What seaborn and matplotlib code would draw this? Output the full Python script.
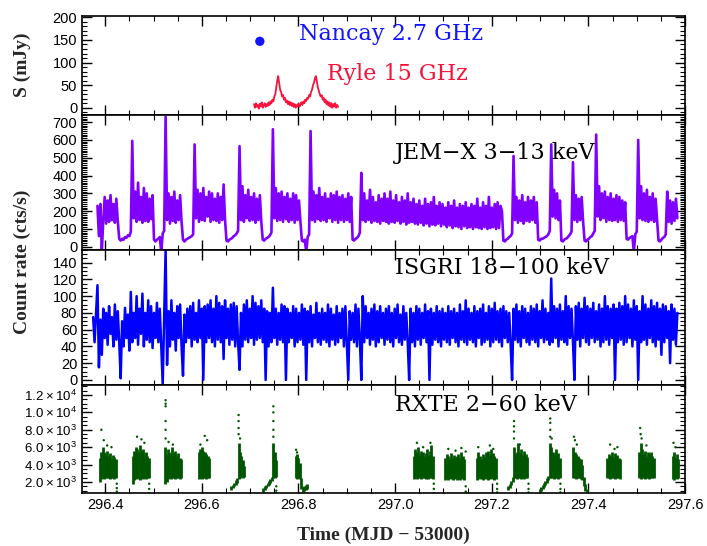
import numpy as np
import pandas as pd
import matplotlib
matplotlib.use('Agg')
import matplotlib.pyplot as plt
import seaborn as sns
from matplotlib.ticker import MultipleLocator, AutoMinorLocator, FixedLocator

sns.set_theme(style='ticks')
plt.rcParams['font.family'] = ['Liberation Sans', 'DejaVu Sans']
plt.rcParams['mathtext.fontset'] = 'custom'
plt.rcParams['mathtext.rm'] = 'Liberation Sans'
plt.rcParams['axes.unicode_minus'] = False

# ---- radio (top panel) ----
nancay_t = [296.720]
nancay_s = [147]
ryle_t0, ryle_dt = 296.708, 0.002
ryle_s = [8, 0, 10, 2, 6, -2, 9, 3, 12, 0, 5, 10, 2, 8, 4, 12, 6, 14, 10,
          18, 14, 25, 30, 45, 60, 70,
          55, 40, 35, 25, 28, 18, 22, 12, 16, 8, 14, 6, 12, 4, 10,
          2, 8, 0, 6, 3, 10, 2, 8, 12, 6, 14, 10, 18, 15, 22,
          20, 28, 25, 35, 40, 50, 55, 65, 70,
          58, 45, 38, 30, 25, 28, 18, 22, 12, 18, 8, 14, 5, 12, 2, 10, 0, 8, 3, 10, 0, 6, 2]

# ---- JEM-X 3-13 keV ----
jemx_t0, jemx_dt = 296.384, 0.003
jemx_rate = [
    230, 60, 240, -25,
    150, 280, 130, 260, 140, 290, 150, 240, 135, 270, 145,
    45, 35, 45, 40, 55, 50, 65, 60, 85, 595,
    160, 310, 140, 360, 150, 280, 135, 330, 145, 300, 140, 270, 155, 290,
    40, 30, 40, 45, 55, -30, 75, 90, 730,
    150, 300, 130, 280, 145, 310, 135, 260, 150, 290, 140,
    40, 30, 40, 45, 50, 55, 60, 70, 575,
    160, 320, 140, 300, 150, 330, 145, 280, 170, 310, 140, 300, 150, 270, 145, 300, 135, 280, 150, 350, 150,
    35, 30, 40, 45, 50, 60, 65, 75, 90, 565,
    150, 340, 140, 290, 160, 320, 145, 280, 150, 300, 135, 270, 150, 290, 140,
    40, 35, 45, 50, 55, 65, 80, 660,
    160, 330, 145, 300, 150, 310, 140, 280, 155, 300, 140, 270, 150, 300, 135, 290, 150, 260, 140,
    35, 30, 40, -30, 55, 70, 650,
    150, 310, 140, 290, 155, 330, 145, 280, 150, 300, 140, 270, 160, 300, 140, 290, 150, 310, 135, 280,
    150, 290, 140, 270, 150, 300, 140, 280,
    40, 35, 45, 50, 60, 80, 415,
    150, 300, 140, 260, 150, 320, 135, 280, 145, 250, 140, 290, 130, 270, 145, 300, 140,
    270, 130, 310, 140, 260, 135, 290, 145, 250, 130, 280, 140, 260, 125, 300, 135, 250, 140, 270, 130,
    240, 125, 260, 135, 230, 120, 270, 130, 240, 115, 250, 125, 280, 120, 230, 130, 250, 115, 240, 125,
    220, 110, 250, 120, 230, 105, 260, 115, 220, 110, 240, 100, 230, 115, 250, 105, 220, 110, 240, 100,
    230, 110, 270, 105, 220, 100, 250, 110, 230, 100, 280, 105, 220, 110, 240, 100, 250, 105, 230, 200,
    35, 30, 40, 45, 55, 60, 75, 510,
    150, 280, 135, 260, 145, 290, 130, 250, 145, 280, 140, 260, 150, 280, 135, 250,
    40, 35, 45, 45, 50, 55, 60, 70, 90, 575,
    170, 320, 160, 300, 150, 260,
    35, 30, 40, 45, 50, 60, 70, 85, 475,
    150, 290, 140, 270, 150, 280, 140,
    35, 30, 40, 45, 55, 60, 75, 90, 630,
    170, 340, 150, 300, 160, 310, 140, 280, 150, 300, 145, 270, 150, 290, 140, 280, 150, 260, 145, 250,
    45, 40, 50, 55, 60, -30, 70, 85, 600,
    160, 340, 150, 300, 145, 320, 140, 280, 150, 300, 140, 270, 150,
    35, 30, 40, 50, 55, 70, 310,
    140, 260, 130, 250, 145, 270, 160,
]

# ---- ISGRI 18-100 keV ----
isgri_t0, isgri_dt = 296.375, 0.003
isgri_rate = [
    75, 45, 78, 113, 15, 72, 30, 85, 50, 80, 42, 88, 55, 75, 40, 90, 48, 82, 45, 2,
    70, 40, 86, 50, 78, 35, 105, 45, 80, 50, 100, 42, 85, 55, 103, 40, 80, 48, 95, 45,
    88, 38, 80, 50, 92, 45, 85, 40, -5, 78, 155, 18, 82, 40, 95, 48, 80, 35, 88, 50,
    90, 40, 5, 78, 45, 85, 50, 88, 40, 92, 48, 80, 45, 95, 50, 85, 0, 88, 45, 90,
    50, 95, 45, 85, 40, 100, 48, 92, 45, 88, 25, 95, 50, 85, 42, 90, 48, 92, 40, 88,
    45, 12, 80, 40, 90, 48, 95, 45, 85, 50, 100, 42, 92, 48, 88, 50, 95, 45, 85, 0,
    82, 40, 80, 45, 110, 50, 85, 42, 80, 48, 90, 45, 88, 0, 85, 45, 80, 50, 88, 40,
    85, 45, 80, 48, 90, 42, 85, 0, 82, 45, 88, 40, 78, 50, 92, 45, 80, 42, 85, 48,
    80, 45, 90, 40, 85, 48, 78, 42, 88, 45, 80, 50, 85, 40, 88, 45, 0, 82, 48, 80,
    45, 90, 40, 85, 48, 0, 100, 45, 88, 50, 80, 42, 85, 48, 90, 40, 82, 45, 88, 50,
    80, 42, 85, 48, 88, 45, 80, 40, 85, 50, 90, 45, 78, 42, 88, 48, 80, 45, 0, 85,
    45, 80, 40, 88, 48, 85, 42, 80, 50, 90, 45, 82, 0, 85, 42, 80, 48, 88, 45, 82,
    40, 85, 48, 80, 45, 88, 42, 82, 50, 85, 45, 80, 40, 90, 48, 82, 45, 95, 42, 85,
    48, 80, 45, 88, 40, 82, 50, 85, 42, 90, 45, 80, 48, 88, 40, 85, 45, 92, 48, 82,
    45, 85, 40, 88, 50, 82, 45, 80, 42, 0, 85, 48, 90, 45, 82, 40, 88, 50, 85, 45,
    80, 42, 88, 48, 85, 45, 90, 40, 82, 50, 95, 45, 85, 48, 80, 42, 121, 45, 88, 50,
    85, 40, 90, 48, 82, 45, 100, 42, 88, 50, 85, 45, 0, 88, 48, 92, 40, 85, 50, 98,
    45, 88, 42, 85, 50, 92, 45, 82, 48, 90, 40, 85, 45, 100, 48, 88, 42, 85, 50, 90,
    0, 85, 45, 92, 48, 88, 42, 100, 45, 90, 50, 85, 40, 95, 48, 88, 0, 82, 45, 100,
    48, 90, 42, 85, 50, 95, 45, 88, 40, 92, 48, 85, 30, 90, 45, 88, 50, 82, 20, 90,
    48, 85, 42, 80,
]

# ---- RXTE 2-60 keV: one block per observation, dense band low/high ----
rxte_dt = 0.003
rxte_start = [296.389, 296.457, 296.524, 296.594, 296.661, 296.727, 296.794, 297.039,
              297.104, 297.169, 297.234, 297.299, 297.369, 297.439, 297.505, 297.574]
rxte_lo = [
    [2000, 2300, 2400, 2300, 2400, 2500, 2400, 2300, 2500, 2400, 2300, 2500],
    [1800, 2200, 2300, 2400, 2300, 2200, 2400, 2300, 2400, 2300, 2400, 2500],
    [1800, 2000, 2300, 2400, 2300, 2500, 2400, 2300, 2500, 2400, 2300, 2500],
    [2300, 2400, 2300, 2500, 2400, 2300, 2400, 2500],
    [1100, 1300, 1500, 1700, 1900, 2300, 2500, 2600, 2500, 2600],
    [900, 1100, 1300, 1500, 1700, 1900, 2100, 2400, 2500, 2600],
    [2400, 2300, 2500, 2300, 1200, 900, 1000, 1100, 1200],
    [2300, 2400, 2300, 2500, 2400, 2300, 2400, 2500, 2300, 2400, 2300, 2500, 2400, 2300],
    [2200, 2300, 2200, 2400, 2300, 2200, 2300, 2400, 2200, 2300, 2200, 2400, 2300, 2200],
    [2200, 2300, 2400, 2300, 2200, 2300, 2400, 2300, 2200, 2300, 2400, 2300, 2200, 2300],
    [1100, 1300, 1600, 2000, 2500, 2400, 2300, 2400, 2500, 2300, 2400, 2300, 2500, 2400],
    [800, 1000, 1200, 1400, 1600, 1900, 2200, 2500, 2400, 2500, 2300, 2500, 2400, 2300, 2500],
    [2500, 2400, 2300, 2500, 2400, 2300, 2200, 1500, 1000, 900],
    [2400, 2500, 2300, 2400, 2500, 2300, 2400, 2500, 2400, 2300],
    [2400, 2300, 2500, 2400, 2300, 2500, 2400, 2300, 2400, 2500, 2400],
    [2300, 2200, 2400, 2300, 2500],
]
rxte_hi = [
    [4800, 5500, 6000, 5400, 5200, 5600, 5000, 5300, 4800, 5100, 4900, 4600],
    [5000, 5600, 6000, 5800, 5400, 6200, 5600, 5800, 5200, 5400, 5000, 4800],
    [6000, 5200, 5800, 5500, 5200, 6000, 5300, 5600, 5000, 5300, 4800, 4600],
    [5500, 5800, 6000, 5600, 5400, 5200, 5000, 4800],
    [1500, 1700, 1900, 2200, 2500, 6500, 5500, 5000, 4500, 3800],
    [1300, 1500, 1700, 1900, 2100, 2300, 2600, 6500, 5500, 4500],
    [5000, 5200, 4800, 4200, 2500, 1400, 1500, 1600, 1800],
    [5000, 5800, 5500, 6000, 5200, 5600, 5400, 5000, 5300, 5800, 5100, 5600, 6200, 5000],
    [4800, 5200, 5000, 4600, 5300, 4800, 5100, 4700, 5000, 5200, 4800, 5400, 5000, 4600],
    [4800, 5500, 5000, 4600, 5200, 4900, 5400, 5000, 5600, 5200, 5800, 5300, 5000, 4700],
    [1500, 1800, 2100, 2600, 6000, 5200, 5500, 6500, 5300, 5800, 5100, 5600, 5200, 4900],
    [1200, 1400, 1600, 1900, 2100, 2400, 2700, 6500, 6000, 5500, 5200, 5800, 5000, 5300, 4800],
    [6000, 5500, 5200, 5000, 4800, 4600, 4000, 2600, 1800, 1200],
    [4800, 5200, 5000, 5400, 4900, 5300, 5000, 5100, 4800, 4600],
    [5500, 6500, 5800, 5200, 5600, 5000, 5400, 5200, 5500, 5000, 4800],
    [5000, 5500, 4800, 5200, 4600],
]
# sparse points above/below the dense bands
rxte_dot_t = [296.392, 296.397, 296.404, 296.413, 296.424, 296.424, 296.424,
              296.466, 296.475, 296.481, 296.491, 296.491, 296.491,
              296.525, 296.525, 296.525, 296.525, 296.525, 296.525, 296.531, 296.540,
              296.597, 296.606, 296.611,
              296.676, 296.676, 296.676, 296.676, 296.679,
              296.748, 296.748, 296.748, 296.748, 296.748, 296.754, 296.754, 296.754,
              296.795, 296.797,
              297.045, 297.058, 297.073, 297.080, 297.080, 297.080,
              297.110, 297.125, 297.137, 297.146, 297.146, 297.146,
              297.172, 297.196, 297.203, 297.211, 297.211, 297.211,
              297.246, 297.246, 297.246, 297.246, 297.258, 297.276, 297.276, 297.276,
              297.321, 297.321, 297.321, 297.321, 297.324, 297.342, 297.342, 297.342,
              297.370, 297.372, 297.376,
              297.445, 297.454, 297.460,
              297.507, 297.508, 297.510, 297.520,
              297.576, 297.580]
rxte_dot_v = [8000, 6800, 6200, 6000, 1800, 1300, 900,
              7200, 6900, 6500, 1800, 1200, 700,
              11400, 11000, 10700, 9000, 8000, 7000, 6600, 6300,
              6300, 7300, 6800,
              9700, 9000, 8200, 7500, 7000,
              10700, 10000, 9000, 8000, 7200, 1500, 1000, 700,
              5700, 5400,
              6500, 6000, 6500, 1800, 1200, 700,
              5800, 5600, 5900, 5500, 1500, 900,
              6000, 6200, 5800, 1800, 1200, 800,
              9000, 8400, 7800, 7000, 6300, 1800, 1200, 800,
              9300, 8800, 8000, 7200, 7000, 1800, 1200, 800,
              7200, 6800, 6300,
              6300, 5800, 6000,
              8200, 7500, 7000, 6200,
              6500, 6000]

rxte_ticks = [2000, 4000, 6000, 8000, 10000, 12000]
rxte_ticklabels = [r'$2.0\times10^{3}$', r'$4.0\times10^{3}$', r'$6.0\times10^{3}$',
                   r'$8.0\times10^{3}$', r'$1.0\times10^{4}$', r'$1.2\times10^{4}$']

# colours
c_ryle, c_nancay = '#f5143c', '#1414ff'
c_jemx, c_isgri, c_rxte = '#8000ff', '#0000ff', '#005500'
serif = ['DejaVu Serif']

fig = plt.figure(figsize=(7.07, 5.46), dpi=100)
left, width = 0.116, 0.853
edges = [0.9707, 0.7894, 0.5421, 0.2949, 0.0971]
axes = []
for k in range(4):
    ax = fig.add_axes([left, edges[k + 1], width, edges[k] - edges[k + 1]],
                      sharex=axes[0] if axes else None)
    axes.append(ax)
ax0, ax1, ax2, ax3 = axes

# top panel: radio
ryle = pd.DataFrame({'t': ryle_t0 + ryle_dt * np.arange(len(ryle_s)), 's': ryle_s})
sns.lineplot(data=ryle, x='t', y='s', ax=ax0, color=c_ryle, lw=1.3, estimator=None)
sns.scatterplot(x=nancay_t, y=nancay_s, ax=ax0, color=c_nancay, s=45, edgecolor='none')
ax0.text(296.802, 163, 'Nancay 2.7 GHz', color=c_nancay, fontsize=16, family=serif, va='center')
ax0.text(296.858, 74, 'Ryle 15 GHz', color=c_ryle, fontsize=16, family=serif, va='center')
ax0.set_ylim(-16, 203)
ax0.yaxis.set_major_locator(MultipleLocator(50))
ax0.yaxis.set_minor_locator(AutoMinorLocator(5))

# JEM-X
jemx = pd.DataFrame({'t': jemx_t0 + jemx_dt * np.arange(len(jemx_rate)), 'r': jemx_rate})
sns.lineplot(data=jemx, x='t', y='r', ax=ax1, color=c_jemx, lw=1.9, estimator=None)
ax1.text(297.0, 525, 'JEM−X 3−13 keV', color='black', fontsize=16, family=serif, va='center')
ax1.set_ylim(-18, 740)
ax1.yaxis.set_major_locator(MultipleLocator(100))
ax1.yaxis.set_minor_locator(AutoMinorLocator(10))

# ISGRI
isgri = pd.DataFrame({'t': isgri_t0 + isgri_dt * np.arange(len(isgri_rate)), 'r': isgri_rate})
sns.lineplot(data=isgri, x='t', y='r', ax=ax2, color=c_isgri, lw=1.8, estimator=None)
ax2.text(297.0, 134, 'ISGRI 18−100 keV', color='black', fontsize=16, family=serif, va='center')
ax2.set_ylim(-6, 155)
ax2.yaxis.set_major_locator(MultipleLocator(20))
ax2.yaxis.set_minor_locator(AutoMinorLocator(4))

# RXTE
for t0, lo, hi in zip(rxte_start, rxte_lo, rxte_hi):
    tt = t0 + rxte_dt * np.arange(len(hi))
    ax3.vlines(tt, lo, hi, color=c_rxte, lw=2.0)
sns.scatterplot(x=rxte_dot_t, y=rxte_dot_v, ax=ax3, color=c_rxte, s=3, edgecolor='none')
ax3.text(297.0, 10850, 'RXTE 2−60 keV', color='black', fontsize=16, family=serif, va='center')
ax3.set_ylim(735, 13150)
ax3.yaxis.set_major_locator(FixedLocator(rxte_ticks))
ax3.set_yticklabels(rxte_ticklabels)
ax3.yaxis.set_minor_locator(AutoMinorLocator(4))

ax3.set_xlim(296.352, 297.6)
ax3.xaxis.set_major_locator(MultipleLocator(0.2))
ax3.xaxis.set_minor_locator(MultipleLocator(0.05))
ax3.xaxis.set_major_formatter(plt.FuncFormatter(lambda v, p: f'{v:.1f}'))

for i, ax in enumerate(axes):
    ax.set_xlabel('')
    ax.set_ylabel('')
    ax.tick_params(which='both', direction='in', top=True, right=True,
                   labelsize=10.5, colors='black', labelbottom=(i == 3))
    ax.tick_params(which='major', length=7, width=1)
    ax.tick_params(which='minor', length=3.5, width=0.8)
    for s in ax.spines.values():
        s.set_linewidth(1.2)
        s.set_color('black')
ax3.tick_params(axis='y', labelsize=9.5)

fig.text(0.031, 0.881, 'S (mJy)', rotation=90, family='Liberation Serif', weight='bold',
         fontsize=14, ha='center', va='center')
fig.text(0.031, 0.52, 'Count rate (cts/s)', rotation=90, family='Liberation Serif',
         weight='bold', fontsize=14, ha='center', va='center')
fig.text(0.542, 0.02, 'Time (MJD − 53000)', family='Liberation Serif', weight='bold',
         fontsize=14, ha='center', va='center')

fig.savefig('out.png', dpi=100, facecolor='white')
